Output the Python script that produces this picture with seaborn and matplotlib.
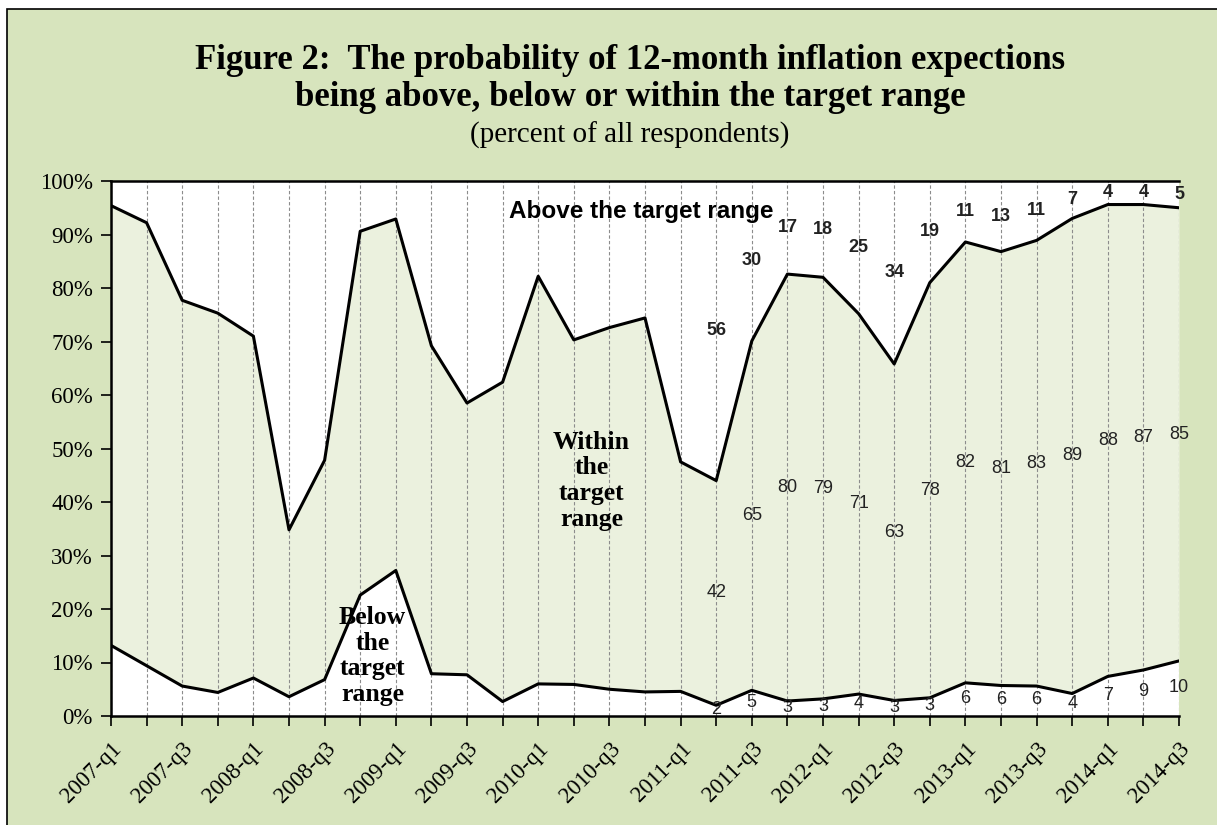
import matplotlib
matplotlib.use("Agg")
import matplotlib.pyplot as plt
import seaborn as sns
import pandas as pd
from matplotlib.patches import Rectangle
from matplotlib.ticker import PercentFormatter

# quarters 2007-q1 .. 2014-q3
quarters = [f"{y}-q{q}" for y in range(2007, 2015) for q in range(1, 5)][:31]

# percent of respondents
below = [13.2, 9.4, 5.6, 4.4, 7.1, 3.6, 6.8, 22.6, 27.2, 7.9, 7.7, 2.7, 6.0, 5.9, 5.0, 4.5,
         4.6, 2.0, 4.8, 2.8, 3.2, 4.1, 2.9, 3.4, 6.2, 5.7, 5.6, 4.2, 7.4, 8.6, 10.3]
within = [82.2, 82.8, 72.1, 70.9, 63.9, 31.2, 41.0, 68.0, 65.7, 61.3, 50.8, 59.7, 76.2, 64.4, 67.6, 69.9,
          42.9, 42.0, 65.3, 79.8, 78.8, 71.1, 62.9, 77.6, 82.4, 81.1, 83.3, 88.8, 88.2, 87.0, 84.7]
above = [4.6, 7.8, 22.3, 24.7, 29.0, 65.2, 52.2, 9.4, 7.1, 30.8, 41.5, 37.6, 17.8, 29.7, 27.4, 25.6,
         52.5, 56.0, 29.9, 17.4, 18.0, 24.8, 34.2, 19.0, 11.4, 13.2, 11.1, 7.0, 4.4, 4.4, 5.0]

df = pd.DataFrame({"quarter": quarters, "below": below, "within": within, "above": above})
df["x"] = range(len(df))
df["top"] = df["below"] + df["within"]

LABEL_START = 17  # data labels shown from 2011-q2 on
BG = "#d7e4bd"
FILL = "#ebf1de"
SERIF = ["Liberation Serif", "DejaVu Serif"]
SANS = ["Liberation Sans", "DejaVu Sans"]

sns.set_theme(style="white")
plt.rcParams["font.family"] = SERIF

fig = plt.figure(figsize=(12.17, 8.25), dpi=100)
fig.patch.set_facecolor("white")
fig.patches.append(Rectangle((7 / 1217, -0.02), 1.1, 1.02 - 9 / 825, transform=fig.transFigure,
                             facecolor=BG, edgecolor="black", linewidth=1.2, zorder=-10))

ax = fig.add_axes([111 / 1217, 1 - 716 / 825, (1179 - 111) / 1217, (716 - 181) / 825])
ax.set_facecolor("white")

ax.fill_between(df["x"], df["below"], df["top"], color=FILL, linewidth=0, zorder=1)
for xv in df["x"]:
    ax.axvline(xv, color="#8c8c8c", linestyle=(0, (3, 2)), linewidth=0.8, zorder=2)
sns.lineplot(data=df, x="x", y="below", color="black", linewidth=2.2, ax=ax, zorder=3)
sns.lineplot(data=df, x="x", y="top", color="black", linewidth=2.2, ax=ax, zorder=3)

# data labels
lab = df.iloc[LABEL_START:]
for _, r in lab.iterrows():
    ax.text(r["x"], min(r["top"] + r["above"] / 2, 98.3), f"{r['above']:.0f}", ha="center",
            va="center", fontsize=13, fontweight="bold", family=SANS, color="#222222", zorder=4)
    ax.text(r["x"], r["below"] + r["within"] / 2, f"{r['within']:.0f}", ha="center", va="center",
            fontsize=13, family=SANS, color="#222222", zorder=4)
    ax.text(r["x"], r["below"] / 2 + 0.2, f"{r['below']:.0f}", ha="center", va="center",
            fontsize=13, family=SANS, color="#222222", zorder=4)

# region annotations
ax.text(14.9, 94.3, "Above the target range", ha="center", va="center", fontsize=17.5,
        fontweight="bold", family=SANS, color="black", zorder=4)
ax.text(13.5, 44, "Within\nthe\ntarget\nrange", ha="center", va="center", fontsize=18.5,
        fontweight="bold", linespacing=1.15, color="black", zorder=4)
ax.text(7.35, 11.2, "Below\nthe\ntarget\nrange", ha="center", va="center", fontsize=18.5,
        fontweight="bold", linespacing=1.15, color="black", zorder=4)

ax.set_xlim(0, len(df) - 1)
ax.set_ylim(0, 100)
ax.set_yticks(range(0, 101, 10))
ax.yaxis.set_major_formatter(PercentFormatter(decimals=0))
ax.set_xticks(df["x"])
ax.set_xticklabels([q if q.endswith(("q1", "q3")) else "" for q in df["quarter"]],
                   rotation=45, ha="right", rotation_mode="anchor")
ax.tick_params(axis="both", direction="out", length=7, width=1.2, colors="black",
               labelsize=16.5, left=True, bottom=True)
ax.tick_params(axis="x", pad=9)
ax.tick_params(axis="y", pad=6)
ax.set_xlabel("")
ax.set_ylabel("")
for s in ["left", "bottom", "top"]:
    ax.spines[s].set_visible(True)
    ax.spines[s].set_color("black")
    ax.spines[s].set_linewidth(1.8)
ax.spines["right"].set_visible(False)

fig.text(0.5177, 0.9045, "Figure 2:  The probability of 12-month inflation expections\n"
         "being above, below or within the target range", ha="center", va="center",
         fontsize=25, fontweight="bold", linespacing=1.15, color="black")
fig.text(0.5177, 0.836, "(percent of all respondents)", ha="center", va="center", fontsize=21,
         color="black")

fig.savefig("out.png", dpi=100, facecolor=fig.get_facecolor())
